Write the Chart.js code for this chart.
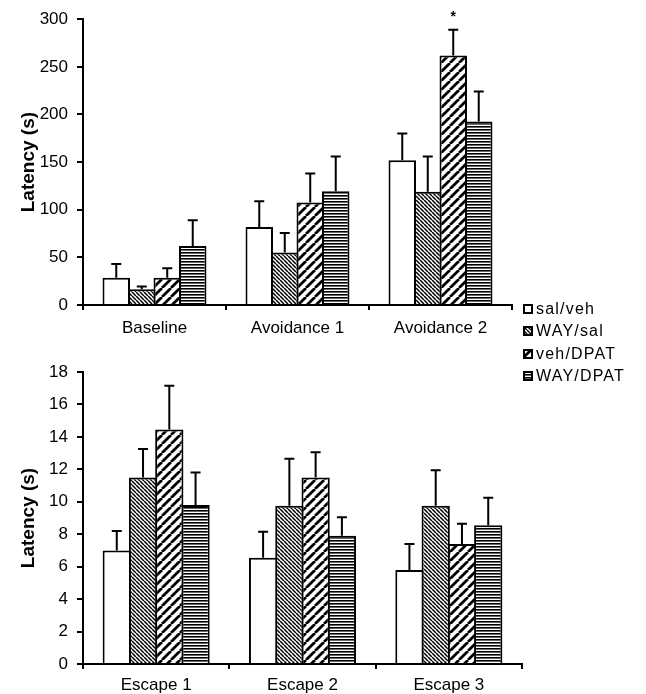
<!DOCTYPE html>
<html><head><meta charset="utf-8">
<script src="https://cdn.jsdelivr.net/npm/chart.js@4"></script>
<style>
body{margin:0;background:#fff;width:646px;height:694px;overflow:hidden;position:relative;font-family:"Liberation Sans",Arial,sans-serif}
#cTop,#cBot{position:absolute;left:0}
#cTop{top:0}
#cBot{top:345px}
#legend{position:absolute;left:523px;top:298px;width:123px;height:100px}
.row{position:absolute;left:0;height:22px;white-space:nowrap;font-size:16px;letter-spacing:1.2px;color:#000;line-height:22px}
.row canvas{position:absolute;left:0;top:6px}
.row span{position:absolute;left:13px;top:0}
</style></head>
<body>
<canvas id="cTop" width="646" height="345"></canvas>
<canvas id="cBot" width="646" height="349"></canvas>
<div id="legend"></div>
<script>
// ---- data ----
const seriesNames = ['sal/veh', 'WAY/sal', 'veh/DPAT', 'WAY/DPAT'];
const topCategories = ['Baseline', 'Avoidance 1', 'Avoidance 2'];
const bottomCategories = ['Escape 1', 'Escape 2', 'Escape 3'];
const topYTicks = [0, 50, 100, 150, 200, 250, 300];
const bottomYTicks = [0, 2, 4, 6, 8, 10, 12, 14, 16, 18];

const topSalVeh = [28.5, 82, 152];
const topWaySal = [16.5, 55, 119];
const topVehDpat = [28.5, 107.5, 262];
const topWayDpat = [62, 119.5, 192.5];
const topSalVehErr = [14.5, 27, 28];
const topWaySalErr = [3, 20.5, 37];
const topVehDpatErr = [10, 30.5, 27];
const topWayDpatErr = [27, 36.5, 31.5];

const botSalVeh = [7.0, 6.55, 5.8];
const botWaySal = [11.5, 9.75, 9.75];
const botVehDpat = [14.45, 11.5, 7.4];
const botWayDpat = [9.8, 7.9, 8.55];
const botSalVehErr = [1.2, 1.6, 1.6];
const botWaySalErr = [1.75, 2.9, 2.2];
const botVehDpatErr = [2.7, 1.55, 1.25];
const botWayDpatErr = [2.0, 1.15, 1.7];

// significance marker: dataset index, category index
const starMarks = [[2, 2]];

// ---- patterns ----
function makeFill(kind) {
  if (kind === 'white') return '#ffffff';
  const c = document.createElement('canvas');
  const x = c.getContext('2d');
  if (kind === 'back') {
    const s = 4; c.width = c.height = s;
    x.fillStyle = '#fff'; x.fillRect(0, 0, s, s);
    x.strokeStyle = '#000'; x.lineWidth = 1.5; x.beginPath();
    for (let k = -1; k <= 1; k++) { x.moveTo(k * s, 0); x.lineTo(k * s + s, s); }
    x.stroke();
  } else if (kind === 'fwd') {
    const s = 9; c.width = c.height = s;
    x.fillStyle = '#fff'; x.fillRect(0, 0, s, s);
    x.strokeStyle = '#000'; x.lineWidth = 2.8; x.beginPath();
    for (let k = -1; k <= 1; k++) { x.moveTo(k * s + s, 0); x.lineTo(k * s, s); }
    x.stroke();
  } else if (kind === 'horiz') {
    c.width = 4; c.height = 3;
    x.fillStyle = '#fff'; x.fillRect(0, 0, 4, 3);
    x.fillStyle = '#000'; x.fillRect(0, 0, 4, 1.6);
  }
  return x.createPattern(c, 'repeat');
}
const fillKinds = ['white', 'back', 'fwd', 'horiz'];
const fills = fillKinds.map(makeFill);

Chart.defaults.font.family = '"Liberation Sans", Arial, sans-serif';
Chart.defaults.font.size = 17;
Chart.defaults.color = '#000';

const errorBarPlugin = {
  id: 'errorBars',
  afterDatasetsDraw(chart, args, opts) {
    const ctx = chart.ctx, yScale = chart.scales.y;
    ctx.save();
    ctx.strokeStyle = '#000'; ctx.lineWidth = 2;
    chart.data.datasets.forEach((ds, i) => {
      const meta = chart.getDatasetMeta(i);
      meta.data.forEach((bar, j) => {
        const top = yScale.getPixelForValue(ds.data[j] + ds.errors[j]);
        ctx.beginPath();
        ctx.moveTo(bar.x, bar.y); ctx.lineTo(bar.x, top);
        ctx.moveTo(bar.x - 5, top); ctx.lineTo(bar.x + 5, top);
        ctx.stroke();
      });
    });
    (opts.stars || []).forEach(([i, j]) => {
      const ds = chart.data.datasets[i];
      const bar = chart.getDatasetMeta(i).data[j];
      const top = yScale.getPixelForValue(ds.data[j] + ds.errors[j]);
      ctx.fillStyle = '#000';
      ctx.font = 'bold 14px "Liberation Sans", Arial, sans-serif';
      ctx.textAlign = 'center'; ctx.textBaseline = 'middle';
      ctx.fillText('*', bar.x, top - 13);
    });
    ctx.restore();
  }
};

function buildChart(id, cats, vals, errs, yTicks, cfg) {
  const datasets = seriesNames.map((n, i) => ({
    label: n,
    data: vals[i],
    errors: errs[i],
    backgroundColor: fills[i],
    borderColor: '#000',
    borderWidth: 2,
    borderSkipped: 'start',
    categoryPercentage: cfg.catPct,
    barPercentage: cfg.barPct
  }));
  return new Chart(document.getElementById(id), {
    type: 'bar',
    data: { labels: cats, datasets },
    plugins: [errorBarPlugin],
    options: {
      responsive: false,
      animation: false,
      devicePixelRatio: 1,
      layout: { padding: cfg.padding },
      plugins: {
        legend: { display: false },
        tooltip: { enabled: false },
        errorBars: { stars: cfg.stars || [] }
      },
      scales: {
        x: {
          grid: { display: true, drawOnChartArea: false, offset: true, tickLength: 5, color: '#000', lineWidth: 2 },
          border: { display: true, color: '#000', width: 2 },
          ticks: { padding: cfg.xPad, color: '#000', font: { size: 17 }, maxRotation: 0 },
          afterFit: s => { s.height = cfg.xHeight; }
        },
        y: {
          min: yTicks[0], max: yTicks[yTicks.length - 1],
          grid: { display: true, drawOnChartArea: false, tickLength: 6, color: '#000', lineWidth: 2 },
          border: { display: true, color: '#000', width: 2 },
          ticks: { padding: 9, color: '#000', font: { size: 17 } },
          afterBuildTicks: s => { s.ticks = yTicks.map(v => ({ value: v })); },
          afterFit: s => { s.width = 83; },
          title: { display: true, text: 'Latency (s)', color: '#000',
                   font: { size: 19, weight: 'bold' }, padding: { top: 17, bottom: 0 } }
        }
      }
    }
  });
}

buildChart('cTop', topCategories,
  [topSalVeh, topWaySal, topVehDpat, topWayDpat],
  [topSalVehErr, topWaySalErr, topVehDpatErr, topWayDpatErr],
  topYTicks,
  { padding: { left: 0, right: 134, top: 14, bottom: 0 }, xHeight: 40, xPad: 8,
    catPct: 0.713, barPct: 1.078, stars: starMarks });

buildChart('cBot', bottomCategories,
  [botSalVeh, botWaySal, botVehDpat, botWayDpat],
  [botSalVehErr, botWaySalErr, botVehDpatErr, botWayDpatErr],
  bottomYTicks,
  { padding: { left: 0, right: 124, top: 27, bottom: 0 }, xHeight: 30, xPad: 6,
    catPct: 0.718, barPct: 1.076 });

// ---- legend ----
const legend = document.getElementById('legend');
seriesNames.forEach((n, i) => {
  const row = document.createElement('div');
  row.className = 'row';
  row.style.top = (i * 22.4) + 'px';
  const sw = document.createElement('canvas');
  sw.width = 10; sw.height = 10;
  const g = sw.getContext('2d');
  g.fillStyle = fills[i]; g.fillRect(0, 0, 10, 10);
  g.strokeStyle = '#000'; g.lineWidth = 2; g.strokeRect(1, 1, 8, 8);
  const sp = document.createElement('span');
  sp.textContent = n;
  row.appendChild(sw); row.appendChild(sp);
  legend.appendChild(row);
});
</script>
</body></html>
